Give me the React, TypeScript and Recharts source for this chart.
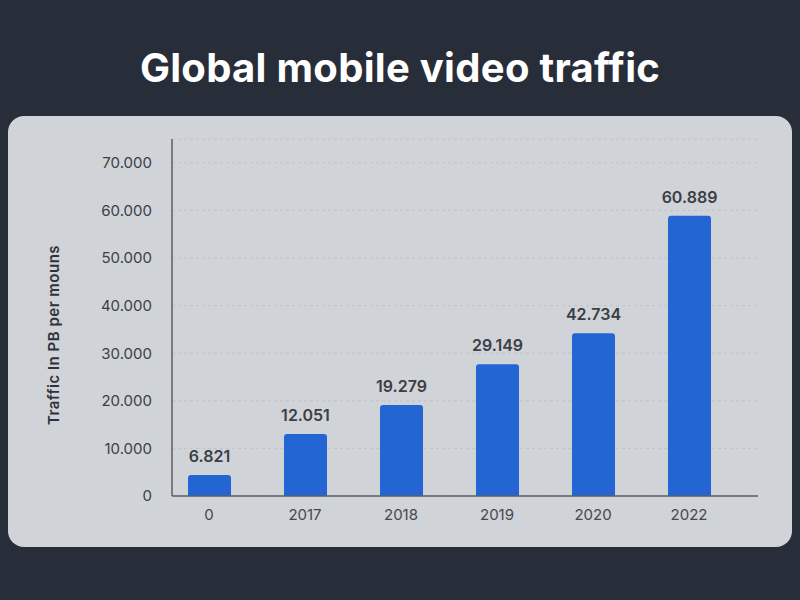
import React from 'react';
import { BarChart, Bar, XAxis, YAxis, CartesianGrid, LabelList, Label } from 'recharts';

const categories = ['0', '2017', '2018', '2019', '2020', '2022'];
const barValues = [4400, 13000, 19100, 27700, 34200, 58900];
const barLabels = ['6.821', '12.051', '19.279', '29.149', '42.734', '60.889'];
const yTicks = [0, 10000, 20000, 30000, 40000, 50000, 60000, 70000];

const data = categories.map((year, i) => ({ year, value: barValues[i], label: barLabels[i] }));

const fmt = (v: number) => String(v).replace(/\B(?=(\d{3})+(?!\d))/g, '.');

const FONT = 'Inter, "Noto Sans", sans-serif';

export default function App() {
  return (
    <div style={{ position: 'absolute', left: 0, top: 0, width: 800, height: 600, background: '#282e39', fontFamily: FONT }}>
      <div
        style={{
          position: 'absolute',
          top: 44,
          left: 0,
          width: 800,
          textAlign: 'center',
          color: '#ffffff',
          fontSize: 40,
          fontWeight: 700,
          lineHeight: '48px',
          letterSpacing: 0.3,
        }}
      >
        Global mobile video traffic
      </div>
      <div style={{ position: 'absolute', left: 8, top: 116, width: 784, height: 431, borderRadius: 16, background: '#d0d3d8' }}>
        <BarChart width={784} height={431} data={data} margin={{ top: 23, right: 34, bottom: 21, left: 0 }}>
          <CartesianGrid vertical={false} stroke="#bfc3c9" strokeDasharray="3 3" />
          <XAxis
            dataKey="year"
            height={30}
            axisLine={{ stroke: '#5b5f66', strokeWidth: 1.5 }}
            tickLine={false}
            tick={{ fill: '#45484f', fontSize: 15, fontFamily: FONT }}
            tickMargin={7}
            padding={{ left: -11, right: 21 }}
          />
          <YAxis
            width={164}
            domain={[0, 75000]}
            ticks={yTicks}
            tickFormatter={fmt}
            axisLine={{ stroke: '#5b5f66', strokeWidth: 1.5 }}
            tickLine={false}
            tickMargin={14}
            tick={{ fill: '#3b3e45', fontSize: 15, fontFamily: FONT }}
          >
            <Label
              content={() => (
                <text
                  x={45}
                  y={219}
                  transform="rotate(-90 45 219)"
                  textAnchor="middle"
                  dominantBaseline="central"
                  fill="#2f3238"
                  fontSize={15}
                  fontWeight={600}
                  letterSpacing={0.5}
                  fontFamily={FONT}
                >
                  Traffic In PB per mouns
                </text>
              )}
            />
          </YAxis>
          <Bar dataKey="value" fill="#2365d3" barSize={43} radius={[3, 3, 0, 0]} isAnimationActive={false}>
            <LabelList
              dataKey="label"
              content={(p: any) => (
                <text
                  x={p.x + p.width / 2}
                  y={p.y - 19}
                  textAnchor="middle"
                  dominantBaseline="central"
                  fill="#3b3e45"
                  fontSize={16}
                  fontWeight={600}
                  fontFamily={FONT}
                >
                  {p.value}
                </text>
              )}
            />
          </Bar>
        </BarChart>
      </div>
    </div>
  );
}
